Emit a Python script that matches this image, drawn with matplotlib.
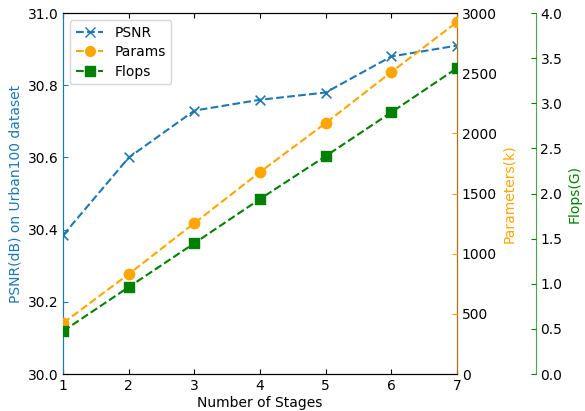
import matplotlib
matplotlib.use('Agg')
import matplotlib.pyplot as plt
from matplotlib.lines import Line2D

# values
stages = [1, 2, 3, 4, 5, 6, 7]
psnr = [30.385, 30.60, 30.73, 30.76, 30.78, 30.88, 30.91]
params = [424, 831, 1255, 1679, 2086, 2510, 2925]
flops = [0.476, 0.964, 1.45, 1.94, 2.415, 2.90, 3.39]

plt.rcParams['xtick.direction'] = 'in'
plt.rcParams['ytick.direction'] = 'in'
plt.rcParams['font.size'] = 10

fig, ax = plt.subplots(figsize=(5.85, 4.11), dpi=100)
fig.subplots_adjust(left=0.108, right=0.781, top=0.968, bottom=0.09)

ax2 = ax.twinx()
ax3 = ax.twinx()
ax3.spines['right'].set_position(('axes', 1.2))

blue = '#1f77b4'
orange = 'orange'
green = 'green'

# dashed lines, then markers as scatter so the ones on the edges get cut
ax.plot(stages, psnr, '--', color=blue)
ax.scatter(stages, psnr, marker='x', color=blue, s=49, linewidths=1.2, zorder=3)
ax2.plot(stages, params, '--', color=orange)
ax2.scatter(stages, params, marker='o', color=orange, s=56, zorder=3)
ax3.plot(stages, flops, '--', color=green)
ax3.scatter(stages, flops, marker='s', color=green, s=49, zorder=3)

ax.set_xlim(1, 7)
ax.set_ylim(30.0, 31.0)
ax2.set_ylim(0, 3000)
ax3.set_ylim(0, 4.0)

ax.set_xlabel('Number of Stages', labelpad=2)
ax.set_ylabel('PSNR(dB) on Urban100 dataset', color=blue)
ax2.set_ylabel('Parameters(k)', color=orange)
ax3.set_ylabel('Flops(G)', color=green)

ax.tick_params(axis='x', top=True)
ax.tick_params(axis='y', colors=blue, labelcolor='black')
ax2.tick_params(axis='y', colors=orange, labelcolor='black')
ax3.tick_params(axis='y', colors=green, labelcolor='black')

ax.spines['left'].set_color(blue)
ax2.spines['left'].set_color(blue)
ax3.spines['left'].set_color(blue)
ax2.spines['right'].set_color(orange)
ax2.spines['right'].set_alpha(0.7)
ax3.spines['right'].set_color(green)
ax3.spines['right'].set_alpha(0.7)
ax3.spines['left'].set_visible(False)
ax3.spines['top'].set_visible(False)
ax3.spines['bottom'].set_visible(False)

handles = [
    Line2D([], [], linestyle='--', marker='x', color=blue, markersize=7, label='PSNR'),
    Line2D([], [], linestyle='--', marker='o', color=orange, markersize=7, label='Params'),
    Line2D([], [], linestyle='--', marker='s', color=green, markersize=7, label='Flops'),
]
ax.legend(handles=handles, loc='upper left', labelspacing=0.4)

fig.savefig('out.png')
